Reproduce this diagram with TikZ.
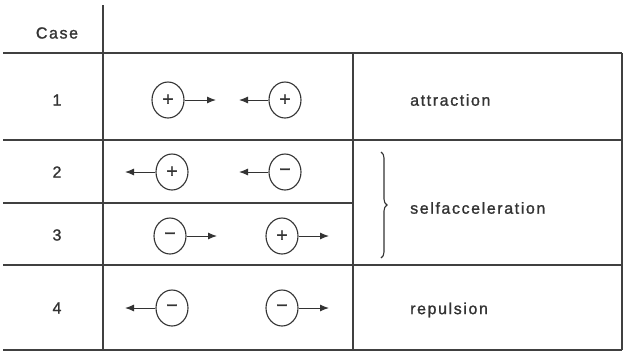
\documentclass[tikz,border=0pt]{standalone}
\usepackage{fontspec}
\setmainfont{Liberation Sans}
\newfontfamily\labfont[LetterSpace=10,FakeBold=1.3]{Liberation Sans}
\newfontfamily\signfont[FakeBold=1.5]{Liberation Sans}
\usetikzlibrary{shapes.geometric,arrows.meta,decorations.pathreplacing}
\begin{document}
\begin{tikzpicture}[x=1pt,y=-1pt,
 rule/.style={draw=black!75,line width=1.5pt},
 lab/.style={font=\fontsize{16}{18}\selectfont\labfont,text=black!80,inner sep=0pt},
 part/.style={ellipse,draw=black!80,line width=1.1pt,minimum width=32pt,minimum height=36pt,inner sep=0pt,font=\fontsize{19}{20}\selectfont\signfont,text=black!80},
 force/.style={draw=black!80,line width=1pt,-{Latex[length=9pt,width=7pt]}}]
\useasboundingbox (0,0) rectangle (625,354);
% grid
\draw[rule] (103,5) -- (103,350);
\draw[rule] (3,53) -- (622,53);
\draw[rule] (3,140) -- (622,140);
\draw[rule] (3,203) -- (353,203);
\draw[rule] (3,265) -- (622,265);
\draw[rule] (3,350) -- (622,350);
\draw[rule] (353,53) -- (353,350);
\draw[rule] (622,53) -- (622,350);
% left column
\node[lab] (hcase) at (57,33) {Case};
\node[lab] (n1) at (57,100) {1};
\node[lab] (n2) at (57,172) {2};
\node[lab] (n3) at (57,235) {3};
\node[lab] (n4) at (57,308) {4};
% right column
\node[lab,anchor=west] (latt) at (410,100) {attraction};
\node[lab,anchor=west] (lsel) at (410,208) {selfacceleration};
\node[lab,anchor=west] (lrep) at (410,310) {repulsion};
% brace
\coordinate (bt) at (381,152);
\coordinate (bb) at (381,258);
\draw[decorate,decoration={brace,amplitude=6pt},draw=black!80,line width=1.1pt] (bt) -- (bb);
% case 1
\node[part] (p1a) at (168,100) {+};
\node[part] (p1b) at (285,100) {+};
\coordinate (f1a) at (216,100);
\coordinate (f1b) at (239,100);
\draw[force] (p1a.east) -- (f1a);
\draw[force] (p1b.west) -- (f1b);
% case 2
\node[part] (p2a) at (172,172) {+};
\node[part] (p2b) at (285,172) {−};
\coordinate (f2a) at (125,172);
\coordinate (f2b) at (239,172);
\draw[force] (p2a.west) -- (f2a);
\draw[force] (p2b.west) -- (f2b);
% case 3
\node[part] (p3a) at (170,236) {−};
\node[part] (p3b) at (282,236) {+};
\coordinate (f3a) at (217,236);
\coordinate (f3b) at (329,236);
\draw[force] (p3a.east) -- (f3a);
\draw[force] (p3b.east) -- (f3b);
% case 4
\node[part] (p4a) at (172,308) {−};
\node[part] (p4b) at (282,308) {−};
\coordinate (f4a) at (125,308);
\coordinate (f4b) at (329,308);
\draw[force] (p4a.west) -- (f4a);
\draw[force] (p4b.east) -- (f4b);
\end{tikzpicture}
\end{document}
